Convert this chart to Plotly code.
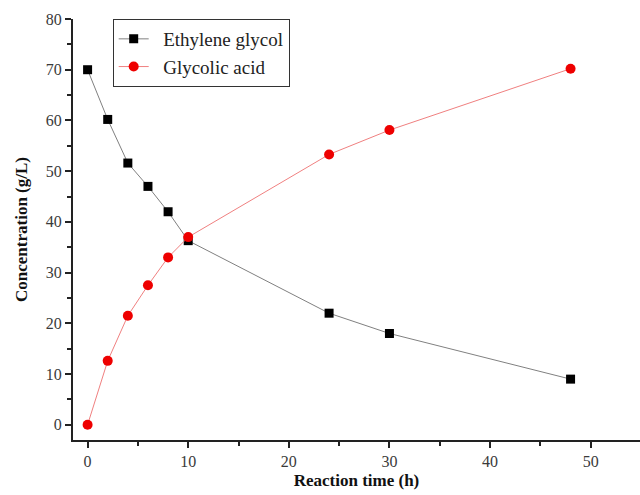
import plotly.graph_objects as go

time_h = [0, 2, 4, 6, 8, 10, 24, 30, 48]
ethylene_glycol = [70.0, 60.2, 51.6, 47.0, 42.0, 36.3, 22.0, 18.0, 9.0]
glycolic_acid = [0.0, 12.6, 21.5, 27.5, 33.0, 37.0, 53.3, 58.1, 70.2]
series_names = ["Ethylene glycol", "Glycolic acid"]

font_family = "'Times New Roman', 'Liberation Serif', serif"
pad = "\u00a0\u00a0"

fig = go.Figure()
fig.add_trace(go.Scatter(
    x=time_h, y=ethylene_glycol, name=pad + series_names[0], mode="lines+markers",
    line=dict(color="#808080", width=1),
    marker=dict(symbol="square", size=9, color="black"),
))
fig.add_trace(go.Scatter(
    x=time_h, y=glycolic_acid, name=pad + series_names[1], mode="lines+markers",
    line=dict(color="#f08080", width=1),
    marker=dict(symbol="circle", size=10, color="#ee0000"),
))

axis_common = dict(
    showline=True, linecolor="#222222", linewidth=2, showgrid=False, zeroline=False,
    ticks="outside", ticklen=6, tickwidth=2, tickcolor="#222222",
    tickfont=dict(family=font_family, size=16, color="#3a3a3a"),
    minor=dict(ticks="outside", ticklen=4, tickwidth=2, tickcolor="#222222"),
)

fig.update_layout(
    width=640, height=495,
    margin=dict(l=73, r=0, t=19, b=55),
    paper_bgcolor="white", plot_bgcolor="white",
    font=dict(family=font_family),
    xaxis=dict(
        range=[-1.45, 54.9], dtick=10, tick0=0,
        title=dict(text="<b>Reaction time (h)</b>", font=dict(family=font_family, size=17, color="#111111"), standoff=5),
        **axis_common,
    ),
    yaxis=dict(
        range=[-3.0, 80], dtick=10, tick0=0,
        title=dict(text="<b>Concentration (g/L)</b>", font=dict(family=font_family, size=17, color="#111111"), standoff=14),
        **axis_common,
    ),
    legend=dict(
        x=0.07, y=1.0, xanchor="left", yanchor="top",
        bgcolor="white", bordercolor="#333333", borderwidth=1,
        font=dict(family=font_family, size=19, color="#222222"),
        tracegroupgap=0,
    ),
)
fig.update_xaxes(minor=dict(dtick=5))
fig.update_yaxes(minor=dict(dtick=5))

fig.write_html("out.html")
